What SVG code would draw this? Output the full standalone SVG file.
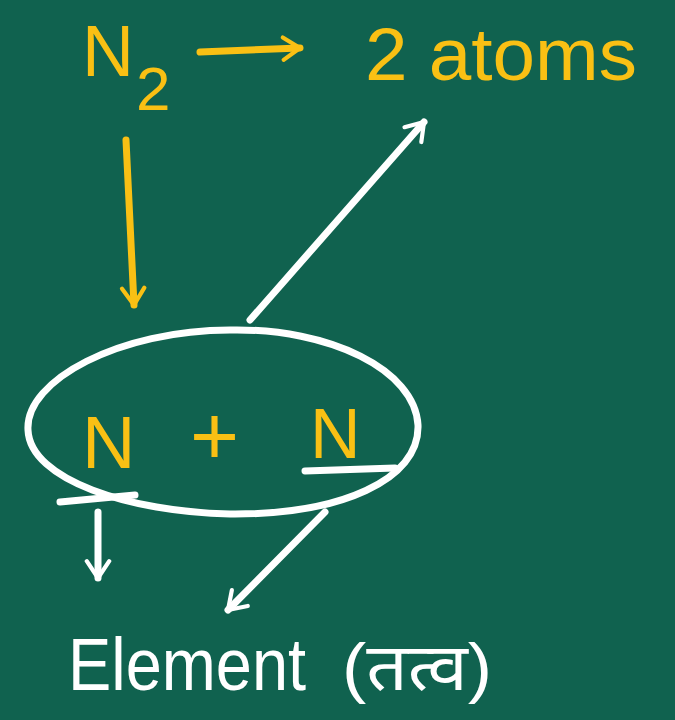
<svg xmlns="http://www.w3.org/2000/svg" width="675" height="720" viewBox="0 0 675 720">
<style>
.y{fill:#F9C014;font-family:"Liberation Sans","Noto Sans",sans-serif}
.w{fill:#FFFFFF;font-family:"Liberation Sans","Noto Sans","Noto Sans Devanagari",sans-serif}
.ly{stroke:#F9C014;stroke-width:7;fill:none;stroke-linecap:round;stroke-linejoin:round}
.lw{stroke:#FFFFFF;stroke-width:7;fill:none;stroke-linecap:round;stroke-linejoin:round}
</style>
<defs>
<marker id="ay" viewBox="0 0 20 20" refX="16" refY="10" markerWidth="4" markerHeight="4" orient="auto" markerUnits="strokeWidth">
<path d="M4 2 L16 10 L4 18" fill="none" stroke="#F9C014" stroke-width="3" stroke-linecap="round" stroke-linejoin="round"/>
</marker>
<marker id="aw" viewBox="0 0 20 20" refX="16" refY="10" markerWidth="4" markerHeight="4" orient="auto" markerUnits="strokeWidth">
<path d="M4 2 L16 10 L4 18" fill="none" stroke="#FFFFFF" stroke-width="3" stroke-linecap="round" stroke-linejoin="round"/>
</marker>
</defs>
<rect width="675" height="720" fill="#10624F"/>
<g id="connectors">
<path class="ly" d="M200 52 L300 48" marker-end="url(#ay)"/>
<path class="ly" d="M126 140 L134 305" marker-end="url(#ay)"/>
<path class="lw" d="M250 320 L424 122" marker-end="url(#aw)"/>
<path class="lw" d="M98 512 L98 578" marker-end="url(#aw)"/>
<path class="lw" d="M325 512 L228 610" marker-end="url(#aw)"/>
</g>
<g id="n2">
<text class="y" x="82" y="76" font-size="72">N</text>
<text class="y" x="136" y="110" font-size="62">2</text>
</g>
<g id="atoms">
<text class="y" x="365" y="80" font-size="74" textLength="272" lengthAdjust="spacingAndGlyphs">2 atoms</text>
</g>
<g id="pair">
<path class="lw" d="M230 330 C120 330 25 380 28 430 C30 480 130 512 230 514 C340 515 420 480 418 425 C415 370 330 328 230 330 Z"/>
<path class="lw" d="M60 502 L135 495"/>
<text class="y" x="82" y="468" font-size="74">N</text>
<text class="y" x="190" y="464" font-size="84">+</text>
<text class="y" x="310" y="458" font-size="70">N</text>
<path class="lw" d="M305 471 L395 468"/>
</g>
<g id="element">
<text class="w" x="68" y="690" font-size="74" textLength="238" lengthAdjust="spacingAndGlyphs">Element</text>
<text class="w" x="342" y="690" font-size="66" textLength="150" lengthAdjust="spacingAndGlyphs">(तत्व)</text>
</g>
</svg>
